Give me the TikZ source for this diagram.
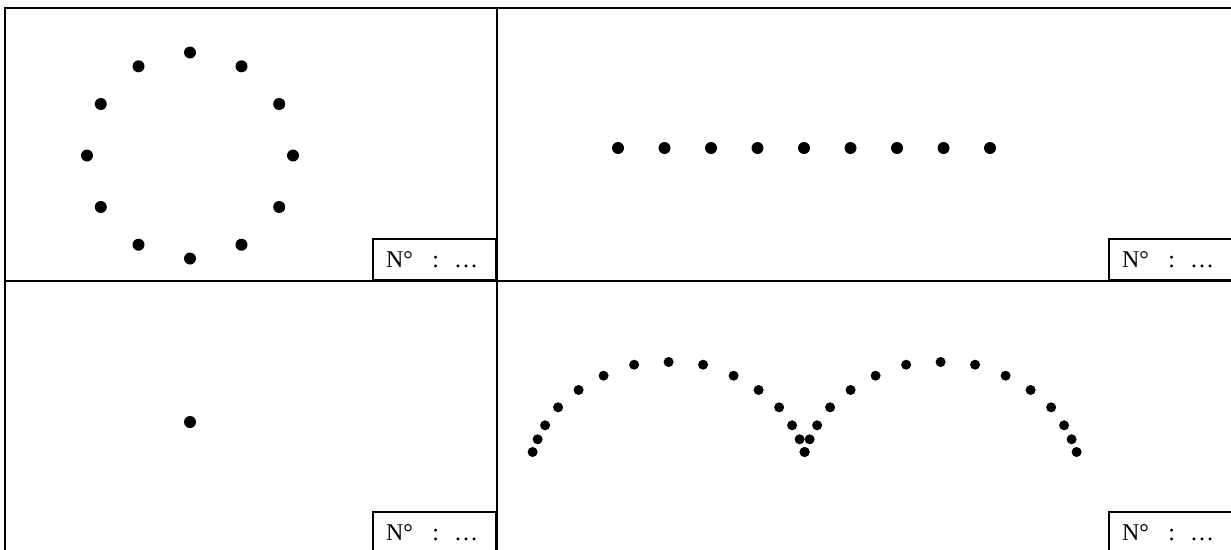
\documentclass[tikz,border=0pt]{standalone}
\usepackage{fontspec}
\setmainfont{Liberation Serif}
\newcommand{\numtext}{\fontsize{24}{26}\selectfont N° \hspace{16pt}: \hspace{10pt}…}
\begin{document}
\begin{tikzpicture}[x=1pt,y=-1pt,
    frame/.style={line width=2.3pt},
    numbox/.style={draw,line width=1.8pt,minimum height=41pt,inner xsep=13pt,inner ysep=0pt,
      text width=97pt,align=left}]
    \useasboundingbox (0,0) rectangle (1231,549);
    \clip (0,0) rectangle (1231,549);

    % grid of four boxes
    \draw[frame] (5,8) rectangle (1233,554);
    \draw[frame] (497,8) -- (497,554);
    \draw[frame] (5,281) -- (1233,281);

    \node[numbox,anchor=south east] (numA) at (497,281) {\numtext};
    \node[numbox,anchor=south east] (numB) at (1233,281) {\numtext};
    \node[numbox,anchor=south east] (numC) at (497,554) {\numtext};
    \node[numbox,anchor=south east] (numD) at (1233,554) {\numtext};

    % dots on a circle
    \foreach \a in {0,30,...,330}
      \fill (190,155.5) ++(\a:103) circle (6);

    % dots in a row
    \foreach \k in {0,...,8}
      \fill (618+46.5*\k,148) circle (6);

    % one dot
    \fill (190,422) circle (6);

    % two arches
    \foreach \s in {0,272}
      \foreach \dx/\dy in {0/0,5/-12.7,12.5/-26.7,25.5/-44.7,46/-62,71/-76.3,101.5/-87.3,136/-90,
          170.5/-87.3,201/-76.3,226/-62,246.5/-44.7,259.5/-26.7,267/-12.7,272/0}
        \fill (532.6+\s+\dx,452+\dy) circle (5);
\end{tikzpicture}
\end{document}
